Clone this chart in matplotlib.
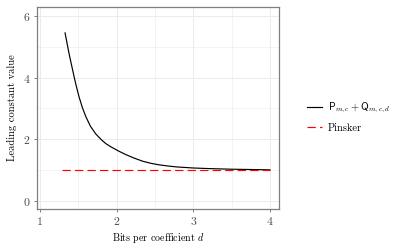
import numpy as np
import matplotlib
matplotlib.use("Agg")
import matplotlib.pyplot as plt
from matplotlib.ticker import MultipleLocator

plt.rcParams['font.family'] = 'serif'
plt.rcParams['font.serif'] = ['cmr10', 'DejaVu Serif']
plt.rcParams['mathtext.fontset'] = 'cm'
plt.rcParams['axes.formatter.use_mathtext'] = True

# values
bits = [1.328, 1.38, 1.40, 1.446, 1.47, 1.51, 1.555, 1.60, 1.66, 1.73, 1.80,
        1.86, 1.93, 2.03, 2.12, 2.23, 2.34, 2.45, 2.56, 2.67, 2.78, 3.0,
        3.21, 3.5, 3.75, 4.0]
lead_const = [5.45, 4.78, 4.55, 4.03, 3.77, 3.38, 3.02, 2.73, 2.42, 2.17, 1.99,
              1.86, 1.75, 1.615, 1.505, 1.39, 1.29, 1.22, 1.17, 1.135, 1.105, 1.07,
              1.05, 1.03, 1.02, 1.01]
pinsker_x = [1.29, 4.0]
pinsker_y = [1.0, 1.0]

grid_col = '#ebebeb'
frame_col = '#7f7f7f'
tick_col = '#4d4d4d'

fig = plt.figure(figsize=(4.05, 2.5), dpi=100)
ax = fig.add_axes([0.091, 0.164, 0.598, 0.808])

ax.plot(bits, lead_const, color='black', lw=0.85, label=r'$\mathsf{P}_{m,c} + \mathsf{Q}_{m,c,d}$', zorder=3)
ax.plot(pinsker_x, pinsker_y, color='#ff0000', lw=0.85, ls=(0, (7, 3.6)), label='Pinsker', zorder=3)

ax.set_xlim(0.96, 4.12)
ax.set_ylim(-0.26, 6.29)
ax.xaxis.set_major_locator(MultipleLocator(1))
ax.xaxis.set_minor_locator(MultipleLocator(0.5))
ax.yaxis.set_major_locator(MultipleLocator(2))
ax.yaxis.set_minor_locator(MultipleLocator(1))
ax.grid(which='major', color=grid_col, lw=0.7)
ax.grid(which='minor', color=grid_col, lw=0.4)
ax.set_axisbelow(True)
for s in ax.spines.values():
    s.set_color(frame_col)
    s.set_linewidth(0.9)
ax.tick_params(which='major', length=2.5, width=0.7, color=frame_col,
               labelcolor=tick_col, labelsize=8.5, pad=2)
ax.tick_params(which='minor', length=0)

ax.set_xlabel(r'Bits per coefficient $d$', fontsize=7.2, labelpad=3)
ax.set_ylabel('Leading constant value', fontsize=7.6, labelpad=4)

fig.legend(loc='center left', bbox_to_anchor=(0.735, 0.532), frameon=False,
           fontsize=7.5, handlelength=1.45, handletextpad=0.55, labelspacing=0.75)

fig.savefig('out.png', dpi=100)
